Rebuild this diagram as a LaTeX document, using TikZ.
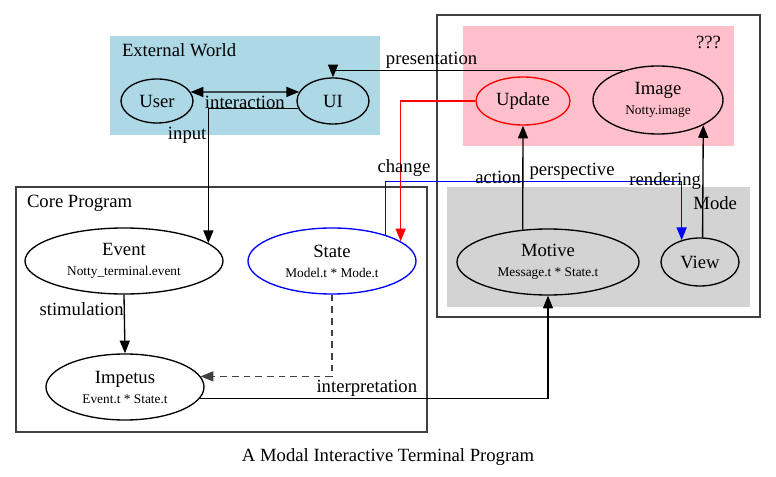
\documentclass[tikz,border=0pt]{standalone}
\usepackage{fontspec}
\setmainfont{Liberation Serif}
\usepackage{tikz}
\usetikzlibrary{shapes.geometric,arrows.meta}

\definecolor{worldblue}{HTML}{ADD8E6}
\definecolor{unknownpink}{HTML}{FFC0CB}
\definecolor{modegray}{HTML}{D3D3D3}
\newcommand{\subtype}[1]{{\fontsize{10}{12}\selectfont #1}}

\begin{document}
\begin{tikzpicture}[x=0.75pt,y=-0.75pt,line width=1pt,
    ell/.style={ellipse, draw, inner sep=0pt, align=center, font=\fontsize{14}{15}\selectfont},
    arr/.style={-{Triangle[length=9.5pt,width=7.5pt]}},
    arrboth/.style={{Triangle[length=9.5pt,width=7.5pt]}-{Triangle[length=9.5pt,width=7.5pt]}},
    lbl/.style={font=\fontsize{14}{16}\selectfont, text=black, inner sep=1pt}]
            \useasboundingbox (0,0) rectangle (776,477);
            \draw[black!75, fill=white] (437,15) rectangle (760,317);
            \fill[unknownpink] (463,26) rectangle (734,146);
            \fill[modegray] (447,187) rectangle (750,307);
            \fill[worldblue] (110,36) rectangle (380,135);
            \draw[black!75] (16,187) rectangle (427,432);
            \node[lbl, anchor=west] (worldname) at (120,50) {External World};
            \node[lbl, anchor=east] (unknownname) at (723,42) {???};
            \node[lbl, anchor=east] (modename) at (739,203) {Mode};
            \node[lbl, anchor=west] (corename) at (25,203) {Core Program};

            \node[ell, minimum width=54pt, minimum height=33pt] (user) at (157,101) {User};
            \node[ell, minimum width=54pt, minimum height=34.5pt] (ui) at (333,101) {UI};
            \node[ell, draw=red, minimum width=70.5pt, minimum height=36pt] (update) at (523,101) {Update};
            \node[ell, minimum width=97.5pt, minimum height=51pt] (image) at (658,100) {Image\\\subtype{Notty.image}};
            \node[ell, minimum width=136.5pt, minimum height=49.5pt] (motive) at (548,262) {Motive\\\subtype{Message.t * State.t}};
            \node[ell, minimum width=58.5pt, minimum height=36pt] (view) at (700,262) {View};
            \node[ell, minimum width=148.5pt, minimum height=49.5pt] (event) at (124,261) {Event\\\subtype{Notty\_terminal.event}};
            \node[ell, draw=blue, minimum width=126pt, minimum height=49.5pt] (state) at (332,261) {State\\\subtype{Model.t * Mode.t}};
            \node[ell, minimum width=118.5pt, minimum height=49.5pt] (impetus) at (125,387) {Impetus\\\subtype{Event.t * State.t}};

            \draw[arrboth] (user.15) -- (ui.165) node[lbl, midway, below=2pt] {interaction};
            \draw[arr] (ui.192) -| (event.12) node[lbl, pos=0.6, left] {input};
            \draw[arr] (image.140) -| (ui.north) node[lbl, pos=0.33, above] {presentation};
            \draw[arr, red] (update.west) -| (state.16) node[lbl, pos=0.74, xshift=2.5pt] {change};
            \draw[arr, blue] (state.26) -- ++(0,-53.4) -| (view.130) node[lbl, pos=0.315, above] {perspective};
            \draw[arr] (motive.128) -- (update.south) node[lbl, midway, left] {action};
            \draw[arr] (view.84) -- (image.331) node[lbl, midway, left] {rendering};
            \draw[arr] (event.south) -- (impetus.north) node[lbl, pos=0.25, left, inner sep=0pt] {stimulation};
            \draw[arr, black!75, dash pattern=on 5pt off 3.75pt] (state.south) |- (impetus.8);
            \draw[arr] (impetus.351) -| (motive.south) node[lbl, pos=0.24, above] {interpretation};

            \node[lbl] (title) at (388,457) {A Modal Interactive Terminal Program};
        \end{tikzpicture}
\end{document}
